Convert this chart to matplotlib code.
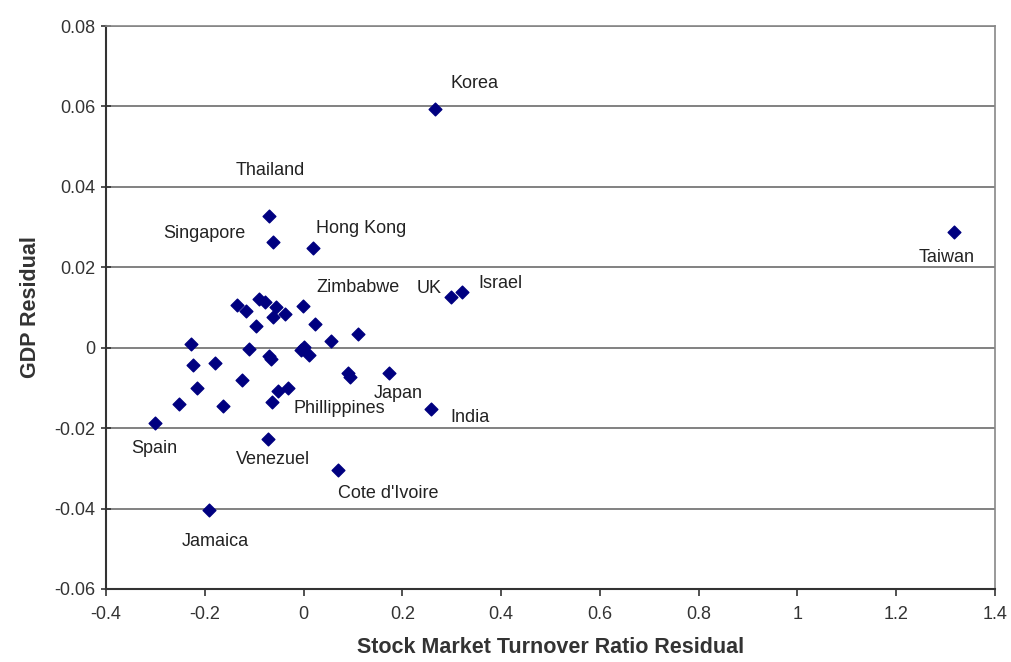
import matplotlib.pyplot as plt

# residuals
turnover_resid = [
    0.266, -0.070, -0.062, 0.019, 0.298, 0.321, 1.317, 0.258, 0.070, -0.191,
    -0.135, -0.117, -0.090, -0.078, -0.056, -0.061, -0.038, -0.001, -0.096, 0.024,
    0.055, 0.110, -0.227, -0.111, -0.070, -0.065, -0.005, 0.001, 0.011, -0.223,
    -0.179, 0.090, 0.095, 0.173, -0.124, -0.216, -0.051, -0.031, -0.252, -0.163,
    -0.063, -0.301, -0.071,
]
gdp_resid = [
    0.0594, 0.0327, 0.0263, 0.0248, 0.0126, 0.0138, 0.0288, -0.0153, -0.0305, -0.0404,
    0.0106, 0.0092, 0.0120, 0.0114, 0.0100, 0.0077, 0.0083, 0.0104, 0.0054, 0.0058,
    0.0017, 0.0034, 0.0009, -0.0004, -0.0020, -0.0027, -0.0006, 0.0002, -0.0017, -0.0043,
    -0.0037, -0.0062, -0.0074, -0.0062, -0.0081, -0.0099, -0.0107, -0.0099, -0.0140, -0.0145,
    -0.0135, -0.0187, -0.0226,
]

# labelled countries: index into the arrays above
labels = {
    "Korea": 0, "Thailand": 1, "Singapore": 2, "Hong Kong": 3, "UK": 4,
    "Israel": 5, "Taiwan": 6, "India": 7, "Cote d'Ivoire": 8, "Jamaica": 9,
    "Zimbabwe": 17, "Japan": 33, "Phillippines": 40, "Spain": 41, "Venezuel": 42,
}
# label offsets in pixels from the point
offsets = {
    "Korea": (40, 25), "Thailand": (1, 46), "Singapore": (-69, 8),
    "Hong Kong": (48, 19), "Zimbabwe": (55, 18), "UK": (-22, 9),
    "Israel": (38, 9), "Taiwan": (-7, -26), "Japan": (9, -21),
    "Phillippines": (67, -7), "India": (39, -8), "Spain": (-1, -26),
    "Venezuel": (5, -21), "Cote d'Ivoire": (50, -23), "Jamaica": (6, -31),
}

plt.rcParams["font.family"] = ["Liberation Sans", "DejaVu Sans"]

fig = plt.figure(figsize=(10.11, 6.62), dpi=100)
ax = fig.add_axes([0.1048, 0.1103, 0.8794, 0.8504])

ax.set_xlim(-0.4, 1.4)
ax.set_ylim(-0.06, 0.08)
ax.set_xticks([-0.4, -0.2, 0, 0.2, 0.4, 0.6, 0.8, 1, 1.2, 1.4])
ax.set_xticklabels(["-0.4", "-0.2", "0", "0.2", "0.4", "0.6", "0.8", "1", "1.2", "1.4"])
ax.set_yticks([-0.06, -0.04, -0.02, 0, 0.02, 0.04, 0.06, 0.08])
ax.set_yticklabels(["-0.06", "-0.04", "-0.02", "0", "0.02", "0.04", "0.06", "0.08"])

ax.yaxis.grid(True, color="#777777", linewidth=1.3)
ax.set_axisbelow(True)

ax.scatter(turnover_resid, gdp_resid, marker="D", s=42, color="#000080", zorder=3)

for name, i in labels.items():
    dx, dy = offsets[name]
    ax.annotate(name, (turnover_resid[i], gdp_resid[i]), xytext=(dx, dy),
                textcoords="offset pixels", ha="center", va="center",
                fontsize=13, color="#222222")

for side in ["top", "right"]:
    ax.spines[side].set_color("#888888")
    ax.spines[side].set_linewidth(1.2)
for side in ["left", "bottom"]:
    ax.spines[side].set_color("#333333")
    ax.spines[side].set_linewidth(1.5)

ax.tick_params(axis="both", labelsize=13, colors="#333333", length=5, width=1.2)
ax.tick_params(axis="x", pad=7)
ax.tick_params(axis="y", direction="inout", length=7, pad=4)

ax.set_xlabel("Stock Market Turnover Ratio Residual", fontsize=15.5, fontweight="bold",
              color="#333333", labelpad=10)
ax.set_ylabel("GDP Residual", fontsize=15.5, fontweight="bold", color="#333333", labelpad=10)

fig.savefig("out.png", dpi=100)
